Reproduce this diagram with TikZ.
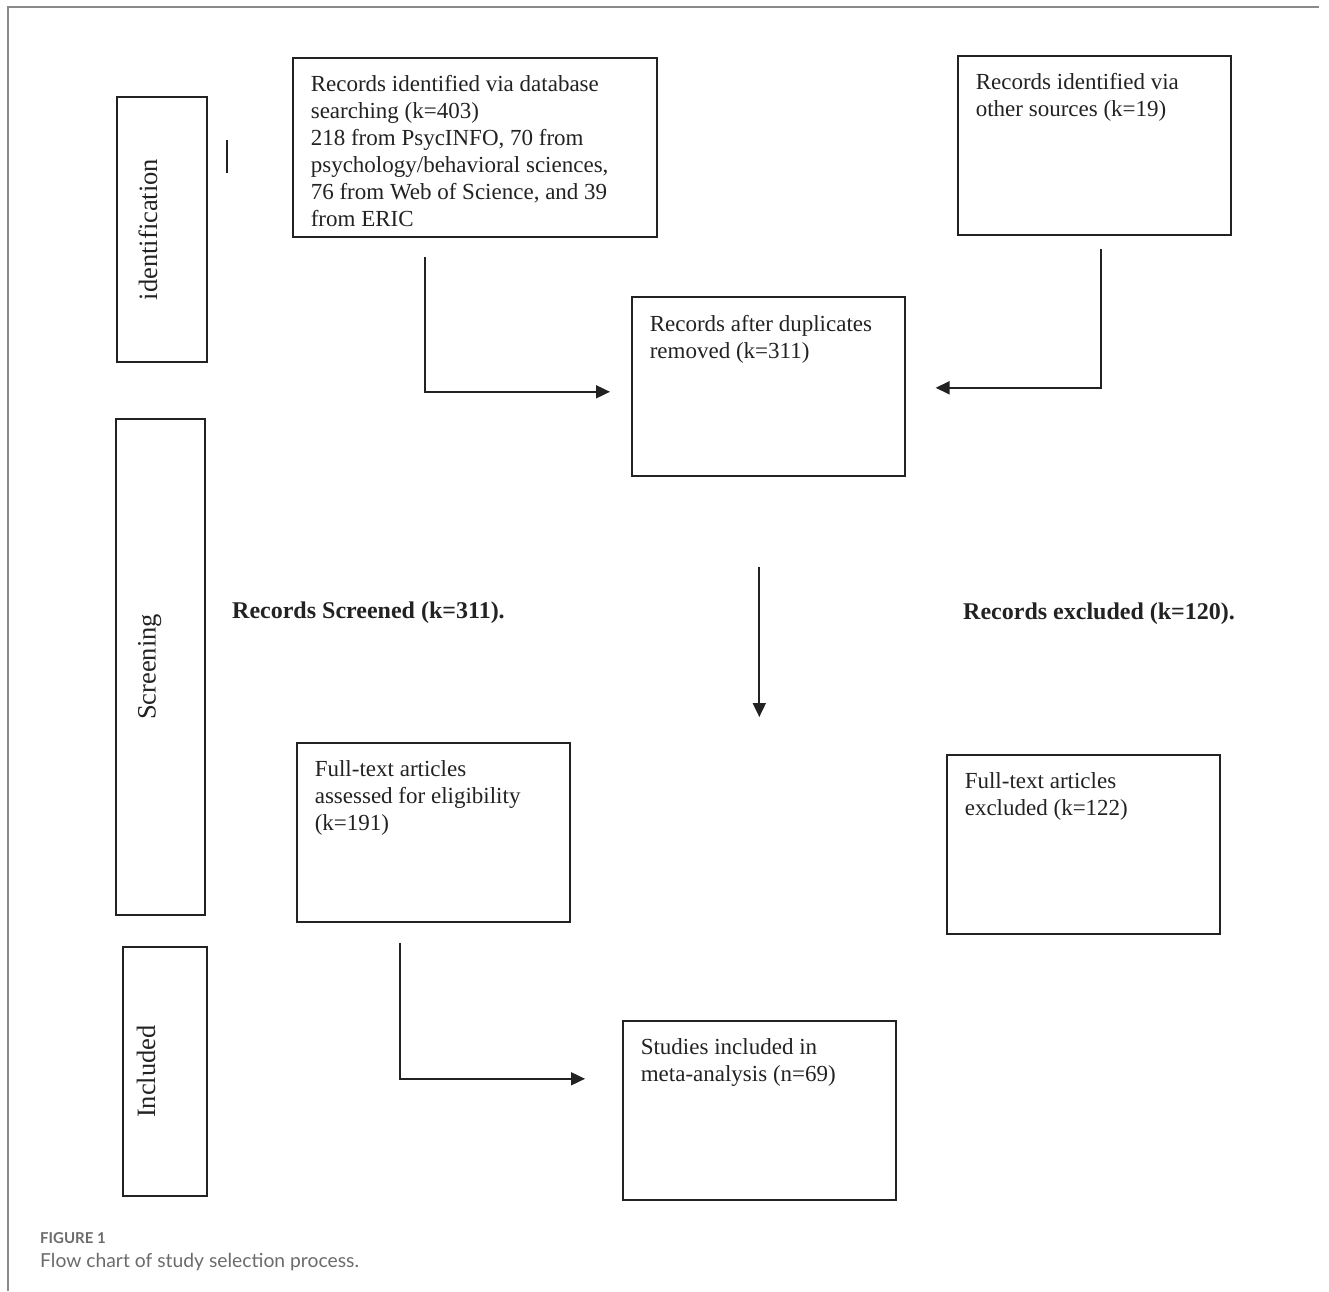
\documentclass[tikz,border=0pt]{standalone}
\usepackage{fontspec}
\setmainfont{Liberation Serif}
\newfontfamily\capfont{Lato}
\newfontfamily\labfont{Liberation Serif}
\usetikzlibrary{arrows.meta}
\definecolor{ink}{HTML}{222222}
\definecolor{capgray}{HTML}{6B6B6B}
\definecolor{framegray}{HTML}{8A8A8A}
\newcommand{\stagetext}[2][237pt]{\parbox[t][143pt][t]{#1}{\raggedright #2}}
\tikzset{
  stagebox/.style={draw=ink, line width=1.6pt, inner xsep=18pt, inner ysep=18pt,
    anchor=north west, text=ink, font=\fontsize{23}{27}\selectfont},
  phasebox/.style={draw=ink, line width=1.6pt, rotate=90, inner sep=0pt, text=ink,
    font=\fontsize{26.5}{30}\selectfont, text height=5pt, text depth=15pt},
  freelabel/.style={anchor=base west, text=ink, inner sep=0pt,
    font=\labfont\bfseries\fontsize{24}{28}\selectfont},
  arr/.style={draw=ink, line width=1.8pt, -{Triangle[length=14pt,width=13pt]}},
}
\begin{document}
\begin{tikzpicture}[x=1pt,y=-1pt]
\useasboundingbox (0,0) rectangle (1329,1291);
% outer frame
\draw[framegray, line width=2pt] (8,1291) -- (8,7) -- (1319,7);
% phase boxes
\node[phasebox, minimum width=265pt, minimum height=90pt] (idp) at (162,229.5) {identification};
\node[phasebox, minimum width=496pt, minimum height=89pt] (scp) at (160.5,667) {Screening};
\node[phasebox, minimum width=249pt, minimum height=84pt, text depth=25pt] (inp) at (165,1071.5) {Included};
% small tick
\draw[ink, line width=2pt] (227,140) -- (227,173);
% stage boxes
\node[stagebox] (A) at (292,57) {\stagetext[328pt]{Records identified via database\\ searching (k=403)\\ 218 from PsycINFO, 70 from\\ psychology/behavioral sciences,\\ 76 from Web of Science, and 39\\ from ERIC}};
\node[stagebox] (B) at (957,55) {\stagetext{Records identified via\\ other sources (k=19)}};
\node[stagebox] (C) at (631,296) {\stagetext{Records after duplicates\\ removed (k=311)}};
\node[stagebox] (D) at (296,742) {\stagetext{Full-text articles\\ assessed for eligibility\\ (k=191)}};
\node[stagebox] (E) at (946,754) {\stagetext{Full-text articles\\ excluded (k=122)}};
\node[stagebox] (F) at (622,1020) {\stagetext{Studies included in\\ meta-analysis (n=69)}};
% free labels
\node[freelabel] (scr) at (232,618) {Records Screened (k=311).};
\node[freelabel] (exc) at (963,619) {Records excluded (k=120).};
% connectors
\coordinate (cstart) at ([shift={(-9pt,-90pt)}]C.south);
\coordinate (downend) at (758,717);
\draw[arr] ([shift={(-50pt,-19pt)}]A.south) |- ([shift={(-21pt,-5.5pt)}]C.west);
\draw[arr] ([shift={(7pt,-13pt)}]B.south) |- ([shift={(30pt,-1.5pt)}]C.east);
\draw[arr] (cstart) -- (cstart |- downend);
\draw[arr] ([shift={(-33.5pt,-20pt)}]D.south) |- ([shift={(-37pt,31.5pt)}]F.west);
% caption
\node[anchor=base west, inner sep=0pt, text=capgray, font=\capfont\bfseries\fontsize{15}{17}\selectfont] (figno) at (40,1243) {FIGURE 1};
\node[anchor=base west, inner sep=0pt, text=capgray, font=\capfont\fontsize{19.3}{23}\selectfont] (figcap) at (40,1267) {Flow chart of study selection process.};
\end{tikzpicture}
\end{document}
